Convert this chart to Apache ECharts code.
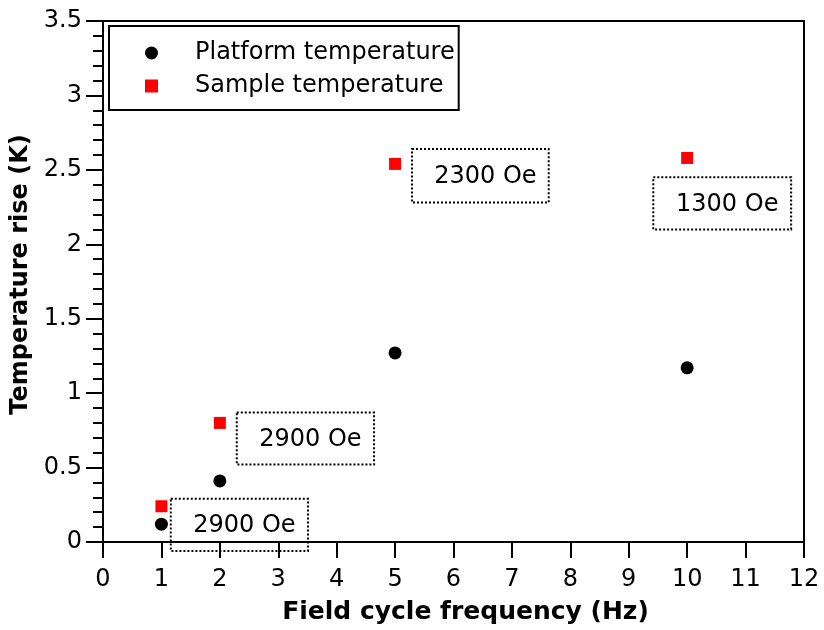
<!DOCTYPE html>
<html>
<head>
<meta charset="utf-8">
<script src="https://cdn.jsdelivr.net/npm/echarts@6/dist/echarts.min.js"></script>
<style>html,body{margin:0;padding:0;background:#fff}#c{width:824px;height:630px}</style>
</head>
<body>
<div id="c"></div>
<script>
const frequency = [1, 2, 5, 10];
const platformTemp = [0.12, 0.41, 1.27, 1.17];
const sampleTemp = [0.24, 0.80, 2.54, 2.58];
const seriesNames = ['Platform temperature', 'Sample temperature'];
const annotationTexts = ['2900 Oe', '2900 Oe', '2300 Oe', '1300 Oe'];
// annotation boxes in data coordinates: [x0, yTop, x1, yBottom]
const annotationBoxes = [
  [1.16, 0.29, 3.51, -0.06],
  [2.29, 0.87, 4.64, 0.52],
  [5.29, 2.64, 7.63, 2.28],
  [9.42, 2.45, 11.78, 2.10]
];

const FONT = '"DejaVu Sans", Verdana, sans-serif';
const chart = echarts.init(document.getElementById('c'), null, {renderer: 'canvas'});

const option = {
  backgroundColor: '#fff',
  animation: false,
  textStyle: {fontFamily: FONT},
  grid: {left: 103, right: 20, top: 21, bottom: 88, show: true, borderColor: '#000', borderWidth: 2, backgroundColor: 'transparent'},
  legend: {
    left: 109, top: 26, orient: 'vertical',
    padding: [15, 4, 12, 36],
    itemGap: 9, itemWidth: 13, itemHeight: 13,
    borderColor: '#000', borderWidth: 2,
    textStyle: {fontFamily: FONT, fontSize: 24, color: '#000', lineHeight: 24, padding: [0, 0, 0, 32]},
    data: [
      {name: seriesNames[0], icon: 'circle', itemStyle: {opacity: 1}},
      {name: seriesNames[1], icon: 'rect', itemStyle: {opacity: 1}}
    ]
  },
  xAxis: {
    type: 'value', min: 0, max: 12, interval: 1,
    name: 'Field cycle frequency (Hz)', nameLocation: 'middle', nameGap: 58,
    nameTextStyle: {fontFamily: FONT, fontSize: 25, fontWeight: 'bold', color: '#000', padding: [0, 0, 0, 24]},
    axisLine: {show: true, onZero: false, lineStyle: {color: '#000', width: 2}},
    axisTick: {show: true, length: 16, lineStyle: {color: '#000', width: 2}},
    axisLabel: {fontFamily: FONT, fontSize: 24, color: '#000', margin: 26},
    splitLine: {show: false}
  },
  yAxis: {
    type: 'value', min: 0, max: 3.5, interval: 0.5,
    name: 'Temperature rise (K)', nameLocation: 'middle', nameGap: 64,
    nameTextStyle: {fontFamily: FONT, fontSize: 24, fontWeight: 'bold', color: '#000', padding: [0, 0, 0, 14]},
    axisLine: {show: true, lineStyle: {color: '#000', width: 2}},
    axisTick: {show: true, length: 17, lineStyle: {color: '#000', width: 2}},
    minorTick: {show: true, splitNumber: 5, length: 10, lineStyle: {color: '#000', width: 2}},
    axisLabel: {fontFamily: FONT, fontSize: 24, color: '#000', margin: 21},
    splitLine: {show: false}
  },
  series: [
    {
      name: seriesNames[0], type: 'scatter', symbol: 'circle', symbolSize: 13,
      itemStyle: {color: '#000', opacity: 1},
      data: frequency.map((f, i) => [f, platformTemp[i]])
    },
    {
      name: seriesNames[1], type: 'scatter', symbol: 'rect', symbolSize: 12,
      itemStyle: {color: '#ff0000', opacity: 1},
      data: frequency.map((f, i) => [f, sampleTemp[i]])
    }
  ]
};
chart.setOption(option);

const graphics = annotationBoxes.map((b, i) => {
  const p0 = chart.convertToPixel({gridIndex: 0}, [b[0], b[1]]);
  const p1 = chart.convertToPixel({gridIndex: 0}, [b[2], b[3]]);
  const w = p1[0] - p0[0], h = p1[1] - p0[1];
  return {
    type: 'group', x: p0[0], y: p0[1], z: 100,
    children: [
      {type: 'rect', shape: {x: 0, y: 0, width: w, height: h},
       style: {fill: 'rgba(0,0,0,0)', stroke: '#000', lineWidth: 2, lineDash: [2, 2]}},
      {type: 'text', x: w / 2 + 5, y: h / 2 + 1,
       style: {text: annotationTexts[i], font: '24px ' + FONT, fill: '#000', align: 'center', verticalAlign: 'middle'}}
    ]
  };
});
chart.setOption({graphic: graphics});
</script>
</body>
</html>
